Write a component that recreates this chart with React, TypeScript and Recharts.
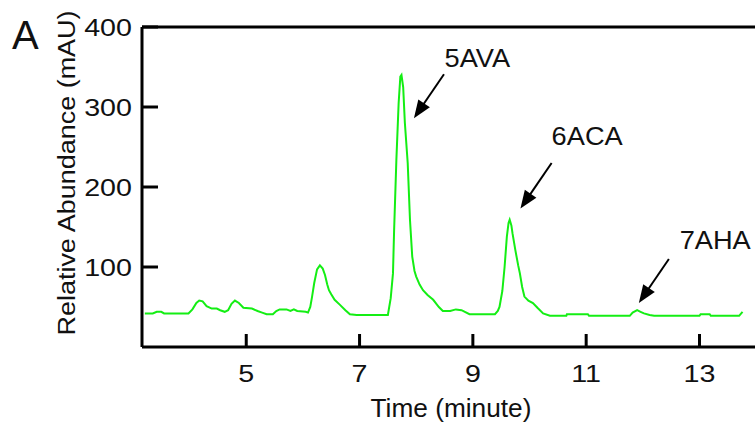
import React from 'react';
import {
  LineChart, Line, XAxis, YAxis, ReferenceLine, ReferenceDot,
} from 'recharts';

// retention time (minute) and detector signal (mAU)
const times = [
  3.21, 3.35, 3.42, 3.50, 3.55, 3.98, 4.05, 4.12, 4.17, 4.23,
  4.30, 4.39, 4.48, 4.54, 4.62, 4.68, 4.74, 4.80, 4.87, 4.95,
  5.10, 5.20, 5.28, 5.36, 5.47, 5.53, 5.59, 5.71, 5.78, 5.84,
  5.90, 6.05, 6.09, 6.13, 6.16, 6.20, 6.25, 6.30, 6.35, 6.39,
  6.43, 6.46, 6.50, 6.56, 6.65, 6.75, 6.83, 6.95, 7.20, 7.50,
  7.55, 7.59, 7.61, 7.65, 7.69, 7.72, 7.74, 7.77, 7.80, 7.85,
  7.89, 7.93, 7.97, 8.00, 8.06, 8.12, 8.20, 8.30, 8.40, 8.47,
  8.60, 8.70, 8.80, 8.94, 9.20, 9.39, 9.44, 9.47, 9.52, 9.56,
  9.60, 9.63, 9.65, 9.68, 9.70, 9.75, 9.80, 9.83, 9.87, 9.91,
  9.98, 10.06, 10.14, 10.24, 10.36, 10.65, 10.66, 11.03, 11.05, 11.77,
  11.82, 11.90, 11.96, 12.02, 12.12, 12.20, 13.00, 13.02, 13.18, 13.20,
  13.70, 13.76,
];
const abundance = [
  42, 42, 44, 44, 42, 42, 47, 55, 58, 57,
  51, 48, 48, 46, 44, 46, 54, 58, 55, 49,
  48, 45, 43, 41, 41, 45, 47, 47, 45, 47,
  45, 44, 43, 50, 62, 80, 97, 102, 98, 90,
  78, 71, 66, 59, 53, 46, 41, 40, 40, 40,
  61, 92, 146, 234, 305, 338, 340, 325, 280, 230,
  159, 113, 95, 88, 78, 71, 65, 59, 50, 45,
  45, 47, 46, 41, 41, 41, 45, 50, 70, 100,
  138, 155, 159, 152, 142, 121, 102, 92, 75, 63,
  58, 55, 49, 42, 39, 39, 41, 41, 39, 39,
  43, 46, 44, 42, 40, 39, 39, 41, 41, 39,
  39, 44,
];

const xTicks = [5, 7, 9, 11, 13];
const yTicks = [100, 200, 300, 400];

// peak labels: arrow tail -> tip, and label anchor, all in data units
const peakNames = ['5AVA', '6ACA', '7AHA'];
const arrowFrom = [[8.49, 341], [10.39, 230], [12.46, 110]];
const arrowTo = [[7.96, 286], [9.84, 173], [11.93, 55]];
const labelAt = [[8.50, 350], [10.39, 252], [12.65, 123]];

const data = times.map((t, i) => ({ t, v: abundance[i] }));

const FONT = '"Liberation Sans", Arial, Helvetica, sans-serif';

// the original's face is a little wider than Arial, so stretch along the text
function T({ x, y, size, sx = 1, rot = 0, anchor = 'start', children }: any) {
  return (
    <text
      transform={`translate(${x},${y}) rotate(${rot}) scale(${sx},1)`}
      textAnchor={anchor} fontSize={size} fontFamily={FONT} fill="#111"
    >
      {children}
    </text>
  );
}

function YTick(p: any) {
  return (
    <g>
      <line x1={p.x + 10} x2={p.x + 26} y1={p.y} y2={p.y} stroke="#000" strokeWidth={3} />
      <T x={p.x} y={p.y + 8.5} size={24.5} sx={1.17} anchor="end">{p.payload.value}</T>
    </g>
  );
}

function XTick(p: any) {
  return (
    <g>
      <line x1={p.x} x2={p.x} y1={p.y} y2={p.y - 13} stroke="#000" strokeWidth={3} />
      <T x={p.x} y={p.y + 35} size={24.5} sx={1.17} anchor="middle">{p.payload.value}</T>
    </g>
  );
}

function Arrow(p: any) {
  const dx = p.x2 - p.x1;
  const dy = p.y2 - p.y1;
  const len = Math.sqrt(dx * dx + dy * dy);
  const ux = dx / len, uy = dy / len;
  const head = 18, half = 7;
  const bx = p.x2 - ux * head, by = p.y2 - uy * head;
  return (
    <g>
      <line x1={p.x1} y1={p.y1} x2={bx + ux * 2} y2={by + uy * 2} stroke="#000" strokeWidth={2} />
      <polygon
        points={`${p.x2},${p.y2} ${bx - uy * half},${by + ux * half} ${bx + uy * half},${by - ux * half}`}
        fill="#000"
      />
    </g>
  );
}

export default function App() {
  return (
    <div style={{ position: 'absolute', left: 0, top: 0, width: 755, height: 425, background: '#fff' }}>
      <LineChart width={755} height={425} data={data} margin={{ top: 27, right: 0, bottom: 0, left: 0 }}>
        <XAxis
          dataKey="t" type="number" domain={[3.16, 13.98]} ticks={xTicks}
          height={78} tickSize={0} tickMargin={0} tick={<XTick />}
          axisLine={{ stroke: '#000', strokeWidth: 3 }}
          label={{
            content: () => <T x={451} y={417} size={25} sx={1.05} anchor="middle">Time (minute)</T>,
          }}
        />
        <YAxis
          type="number" domain={[0, 400]} ticks={yTicks}
          width={142} tickSize={0} tickMargin={10} tick={<YTick />}
          axisLine={{ stroke: '#000', strokeWidth: 3 }}
          label={{
            content: () => (
              <g>
                <T x={75} y={173} size={24.5} sx={1.1} rot={-90} anchor="middle">Relative Abundance (mAU)</T>
                <T x={12} y={49} size={40}>A</T>
              </g>
            ),
          }}
        />
        <ReferenceLine y={400} stroke="#000" strokeWidth={3} />
        <Line
          type="linear" dataKey="v" stroke="#14ee14" strokeWidth={2}
          dot={false} activeDot={false} isAnimationActive={false}
        />
        {peakNames.map((name, i) => (
          <ReferenceLine
            key={name}
            segment={[{ x: arrowFrom[i][0], y: arrowFrom[i][1] }, { x: arrowTo[i][0], y: arrowTo[i][1] }]}
            shape={<Arrow />}
          />
        ))}
        {peakNames.map((name, i) => (
          <ReferenceDot
            key={'l' + name}
            x={labelAt[i][0]} y={labelAt[i][1]} r={0}
            shape={(p: any) => <T x={p.cx} y={p.cy} size={25} sx={1.09}>{name}</T>}
          />
        ))}
      </LineChart>
    </div>
  );
}
